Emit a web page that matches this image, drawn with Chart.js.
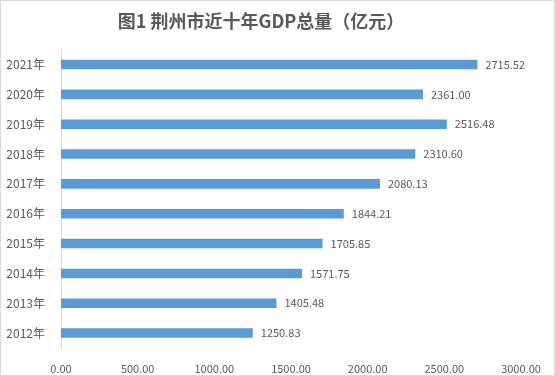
<!DOCTYPE html>
<html>
<head>
<meta charset="utf-8">
<script src="https://cdn.jsdelivr.net/npm/chart.js@4"></script>
<style>
  body { margin: 0; background: #fff; }
  #wrap { width: 555px; height: 376px; box-sizing: border-box; border: 1px solid #d9d9d9; position: relative; }
</style>
</head>
<body>
<div id="wrap"><canvas id="gdp"></canvas></div>
<script>
var years = ['2021年', '2020年', '2019年', '2018年', '2017年', '2016年', '2015年', '2014年', '2013年', '2012年'];
var gdp_values = [2715.52, 2361.00, 2516.48, 2310.60, 2080.13, 1844.21, 1705.85, 1571.75, 1405.48, 1250.83];
var x_ticks = [0, 500, 1000, 1500, 2000, 2500, 3000];
var chart_title = '图1 荆州市近十年GDP总量（亿元）';

var font_family = '"Noto Sans CJK SC", "DejaVu Sans", sans-serif';
var text_color = '#595959';

// draws the value just past the end of each bar
var value_labels = {
    id: 'value_labels',
    afterDatasetsDraw: function(chart) {
        var ctx = chart.ctx;
        var meta = chart.getDatasetMeta(0);
        ctx.save();
        ctx.font = '11px ' + font_family;
        ctx.fillStyle = text_color;
        ctx.textAlign = 'left';
        ctx.textBaseline = 'middle';
        meta.data.forEach(function(bar, i) {
            ctx.fillText(gdp_values[i].toFixed(2), bar.x + 8, bar.y);
        });
        ctx.restore();
    }
};

new Chart(document.getElementById('gdp'), {
    type: 'bar',
    data: {
        labels: years,
        datasets: [{
            data: gdp_values,
            backgroundColor: '#5B9BD5',
            barPercentage: 0.64,
            categoryPercentage: 0.5
        }]
    },
    options: {
        indexAxis: 'y',
        responsive: true,
        maintainAspectRatio: false,
        animation: false,
        layout: { padding: { left: 0, right: 33, top: 0, bottom: 0 } },
        scales: {
            x: {
                min: 0,
                max: 3000,
                afterBuildTicks: function(scale) {
                    scale.ticks = x_ticks.map(function(v) { return {value: v}; });
                },
                afterFit: function(scale) { scale.height = 27; },
                grid: { display: false },
                border: { display: false },
                ticks: {
                    color: text_color,
                    font: { family: font_family, size: 11 },
                    padding: 6,
                    callback: function(val) { return Number(val).toFixed(2); }
                }
            },
            y: {
                afterFit: function(scale) { scale.width = 60; },
                grid: { display: false },
                border: { display: true, color: '#d9d9d9', width: 1 },
                ticks: {
                    color: text_color,
                    font: { family: font_family, size: 12 },
                    padding: 8
                }
            }
        },
        plugins: {
            legend: { display: false },
            tooltip: { enabled: false },
            title: {
                display: true,
                text: chart_title,
                color: text_color,
                font: { family: font_family, size: 18, weight: 'bold' },
                padding: { top: 9, bottom: 18 }
            }
        }
    },
    plugins: [value_labels]
});
</script>
</body>
</html>
